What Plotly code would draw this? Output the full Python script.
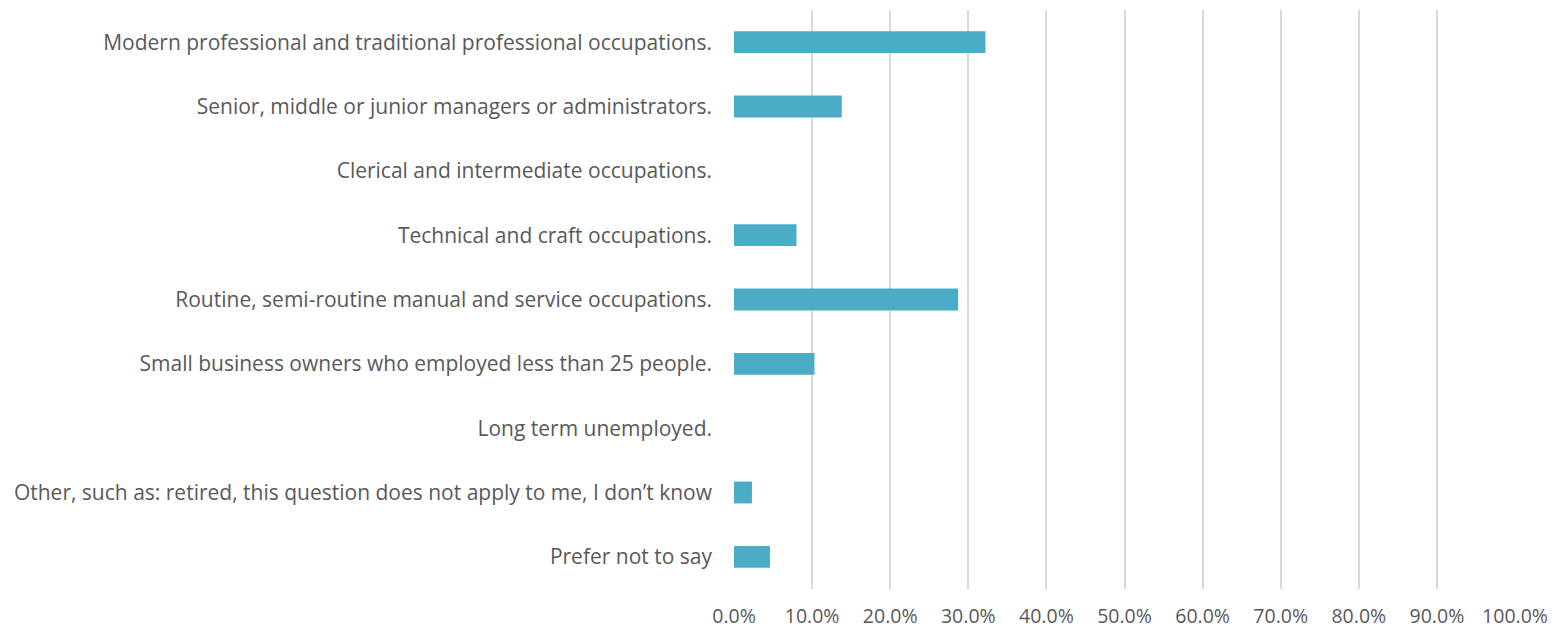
import plotly.graph_objects as go

categories = [
    "Modern professional and traditional professional occupations.",
    "Senior, middle or junior managers or administrators.",
    "Clerical and intermediate occupations.",
    "Technical and craft occupations.",
    "Routine, semi-routine manual and service occupations.",
    "Small business owners who employed less than 25 people.",
    "Long term unemployed.",
    "Other, such as: retired, this question does not apply to me, I don\u2019t know",
    "Prefer not to say",
]
values = [0.322, 0.138, 0.0, 0.080, 0.287, 0.103, 0.0, 0.023, 0.046]
tick_vals = [i / 10 for i in range(11)]
tick_text = [f"{i*10:.1f}%" for i in range(11)]

fig = go.Figure(go.Bar(
    x=values, y=categories, orientation="h",
    marker=dict(color="#4BACC6", line=dict(width=0)),
    width=0.34,
))

font = dict(family="Open Sans", size=21, color="#595959")
xfont = dict(family="Open Sans", size=19.5, color="#595959")
fig.update_layout(
    width=1555, height=630,
    margin=dict(l=726, r=48, t=2, b=49),
    plot_bgcolor="white", paper_bgcolor="white",
    showlegend=False,
    font=font,
)
fig.update_xaxes(
    range=[0, 1], tickvals=tick_vals, ticktext=tick_text,
    showgrid=True, gridcolor="#D9D9D9", gridwidth=1.5,
    zeroline=False, showline=False, tickfont=xfont,
    ticklabelstandoff=13, automargin=False,
)
fig.update_yaxes(
    autorange="reversed", showgrid=False, zeroline=False, showline=False,
    tickfont=font, ticklabelstandoff=21, automargin=False,
)
fig.write_html("out.html")
